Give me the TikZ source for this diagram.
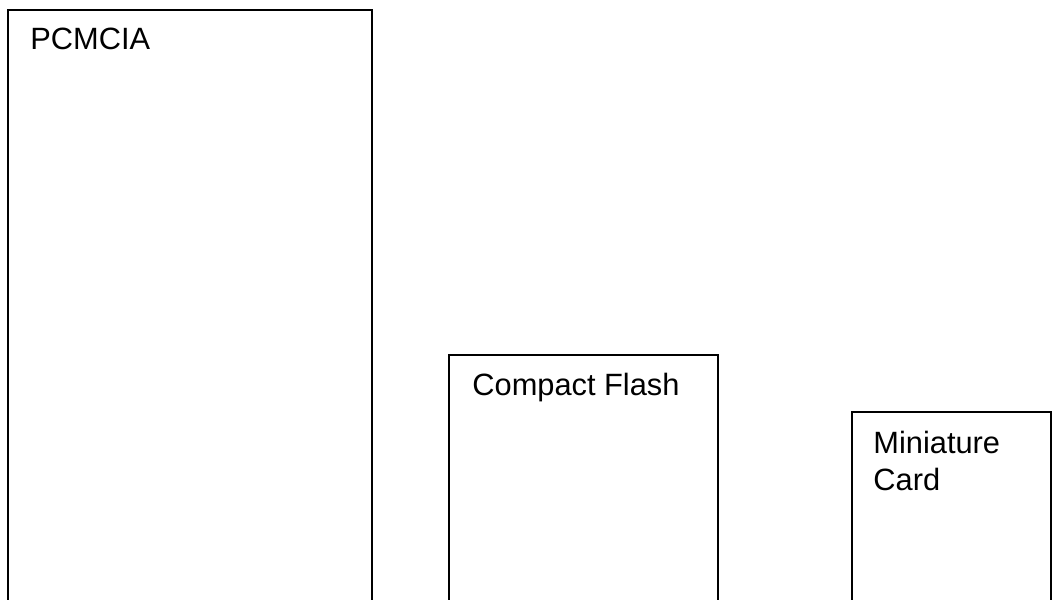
\documentclass[tikz,border=0pt]{standalone}
\usepackage{fontspec}
\setmainfont{Liberation Sans}
\tikzset{
  card/.style={line width=1pt, black},
  cardname/.style={anchor=base west, inner sep=0pt, align=left,
    font=\fontsize{15.4}{18.5}\selectfont}
}
\begin{document}
\begin{tikzpicture}[x=0.5pt,y=-0.5pt]
        \useasboundingbox (0,0) rectangle (1052,599);
        \clip (0,0) rectangle (1052,599);
        % card outlines, open at the bottom
        \foreach \l/\r/\t in {8/372/10, 449/718/355, 852/1051/412} {
            \draw[card] (\l, 640) -- (\l, \t) -- (\r, \t) -- (\r, 640);
        }

        \node[cardname] (pcmcia) at (30, 50) {PCMCIA};
        \node[cardname] (cflash) at (472, 395) {Compact Flash};
        \node[cardname] (minicard) at (873, 490) {Miniature\\Card};
    \end{tikzpicture}
\end{document}
